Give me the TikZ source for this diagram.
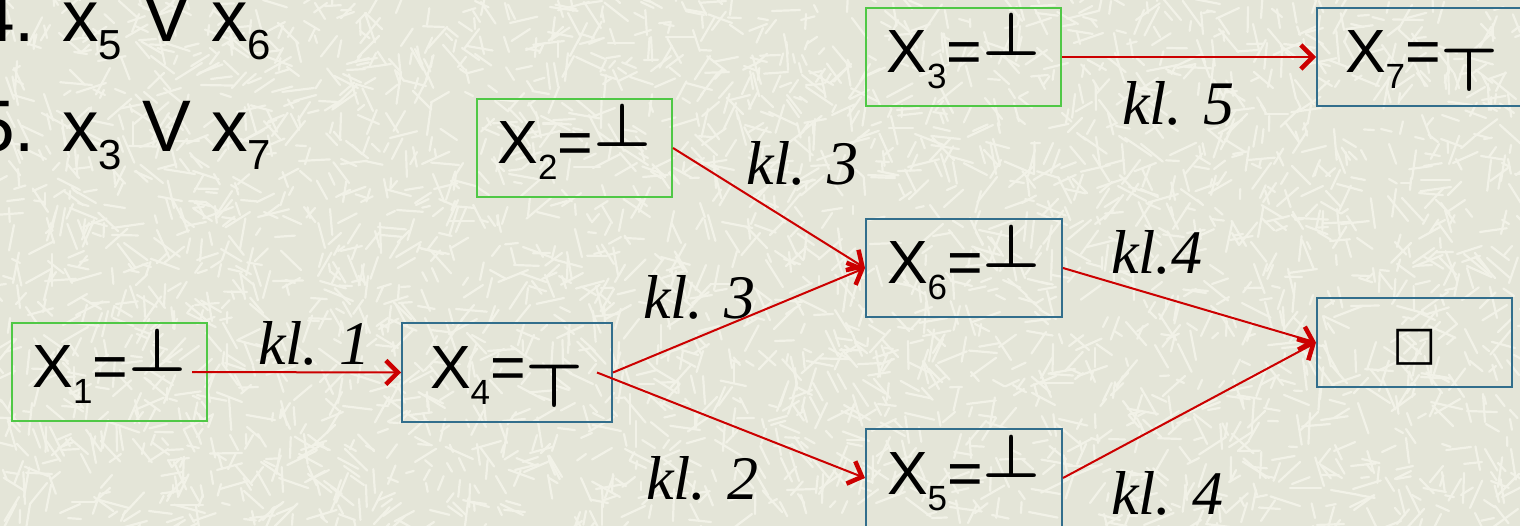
\documentclass[tikz,border=0pt]{standalone}
\usepackage{fontspec}
\usepackage{graphicx}
\setmainfont{Liberation Sans}
\newfontfamily\labfont{Liberation Serif}
\newfontfamily\symfont{DejaVu Sans}
\usetikzlibrary{arrows.meta,calc}

\definecolor{bgbase}{RGB}{228,229,216}
\definecolor{bgstroke}{RGB}{242,242,232}
\definecolor{boxgreen}{RGB}{80,200,70}
\definecolor{boxblue}{RGB}{50,110,140}
\definecolor{arrred}{RGB}{204,0,0}

\newcommand{\symbot}{\raisebox{17pt}{\scalebox{6.5}[6.1]{\fontsize{10}{12}\selectfont\boldmath$\bot$}}}
\newcommand{\symtop}{\raisebox{-19pt}{\scalebox{6.5}[6.1]{\fontsize{10}{12}\selectfont\boldmath$\top$}}}
\newcommand{\boxsub}[1]{\raisebox{-16pt}{\fontsize{35}{35}\selectfont #1}}
\newcommand{\clsub}[1]{\raisebox{-18pt}{\fontsize{42}{42}\selectfont #1}}
\newcommand{\boxtext}[1]{\raisebox{-16pt}[0pt][0pt]{#1}}

\tikzset{
  vbox/.style={draw=boxblue, line width=2pt, inner sep=0pt, minimum height=98pt,
    minimum width=196pt, font=\fontsize{61}{61}\selectfont},
  gbox/.style={vbox, draw=boxgreen},
  lbl/.style={anchor=base west, inner sep=0pt, font=\labfont\itshape\fontsize{62}{62}\selectfont},
  cl/.style={anchor=base west, inner sep=0pt, font=\fontsize{73}{73}\selectfont},
  conn/.style={draw=arrred, line width=2pt,
    -{Straight Barb[length=12pt,width=24pt,line width=4.5pt]}},
}

\begin{document}
\begin{tikzpicture}[x=1pt,y=-1pt]
  \useasboundingbox (0,0) rectangle (1520,526);
  \fill[bgbase] (0,0) rectangle (1520,526);
  \pgfmathsetseed{12345}
  \foreach \i in {1,...,3200}{
    \pgfmathsetmacro{\xa}{random(0,1520)}
    \pgfmathsetmacro{\ya}{random(0,526)}
    \pgfmathsetmacro{\an}{random(0,359)}
    \pgfmathsetmacro{\le}{random(8,32)}
    \draw[bgstroke, line width=2.2pt, line cap=round] (\xa,\ya) -- ++(\an:\le);
  }

  % clauses
  \node[cl] (c4) at (-26,42) {4. x\clsub{5} V x\clsub{6}};
  \node[cl] (c5) at (-26,152) {5. x\clsub{3} V x\clsub{7}};

  % boxes
  \node[gbox, minimum width=195pt] (x1) at (109.5,372) {\boxtext{X\boxsub{1}=\symbot}};
  \node[vbox, minimum width=210pt] (x4) at (507,372.5) {\boxtext{X\boxsub{4}=\symtop}};
  \node[gbox, minimum width=195pt] (x2) at (574.5,148) {\boxtext{X\boxsub{2}=\symbot}};
  \node[gbox, minimum width=195pt] (x3) at (963.5,57) {\boxtext{X\boxsub{3}=\symbot}};
  \node[vbox, minimum width=210pt] (x7) at (1422,57) {\boxtext{X\boxsub{7}=\symtop}};
  \node[vbox] (x6) at (964,268) {\boxtext{X\boxsub{6}=\symbot}};
  \node[vbox] (x5) at (964,478) {\boxtext{X\boxsub{5}=\symbot}};
  \node[vbox, minimum width=195pt, minimum height=89pt]
    (res) at (1414.5,342.5) {\raisebox{-16.8pt}[0pt][0pt]{\symfont\fontsize{47}{47}\selectfont □}};

  % labels
  \node[lbl] (l1) at (258,365) {kl. 1};
  \node[lbl] (l3a) at (746,185) {kl. 3};
  \node[lbl] (l3b) at (643,319) {kl. 3};
  \node[lbl] (l2) at (646,499) {kl. 2};
  \node[lbl] (l4a) at (1111,274) {kl.4};
  \node[lbl] (l4b) at (1111,514) {kl. 4};
  \node[lbl] (l5) at (1122,125) {kl. 5};

  % connectors
  \draw[conn] ([xshift=-16pt]x1.east) -- (x4.west);
  \draw[conn] (x4.east) -- (x6.west);
  \draw[conn] ([xshift=-16pt]x4.east) -- (x5.west);
  \draw[conn] (x2.east) -- (x6.west);
  \draw[conn] (x3.east) -- (x7.west);
  \draw[conn] (x6.east) -- (res.west);
  \draw[conn] (x5.east) -- (res.west);
\end{tikzpicture}
\end{document}
